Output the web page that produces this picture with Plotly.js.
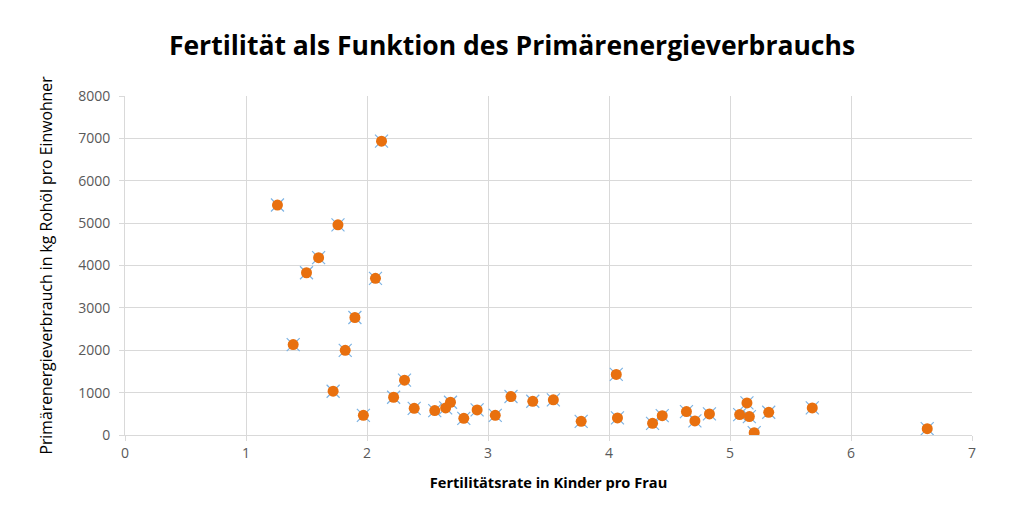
<!DOCTYPE html>
<html>
<head>
<meta charset="utf-8">
<script src="https://cdn.plot.ly/plotly-3.0.1.min.js"></script>
<style>html,body{margin:0;padding:0;background:#fff;}#chart{width:1024px;height:524px;}</style>
</head>
<body>
<div id="chart"></div>
<script>
const fertility = [1.26, 1.39, 1.50, 1.60, 1.72, 1.76, 1.82, 1.90, 1.97, 2.07, 2.12,
  2.22, 2.31, 2.39, 2.56, 2.65, 2.69, 2.80, 2.91, 3.06, 3.19, 3.37, 3.54, 3.77,
  4.06, 4.07, 4.36, 4.44, 4.64, 4.71, 4.83, 5.08, 5.14, 5.16, 5.20, 5.32, 5.68, 6.63];
const energy = [5427, 2133, 3829, 4185, 1033, 4960, 1998, 2773, 464, 3697, 6934,
  891, 1294, 630, 576, 640, 773, 393, 592, 464, 908, 796, 829, 322,
  1429, 403, 275, 457, 552, 332, 498, 481, 758, 434, 55, 536, 640, 149];
const yTicks = [0, 1000, 2000, 3000, 4000, 5000, 6000, 7000, 8000];
const xTicks = [0, 1, 2, 3, 4, 5, 6, 7];

const traces = [
  {x: fertility, y: energy, type: 'scatter', mode: 'markers', hoverinfo: 'skip',
   marker: {symbol: 'x-thin', size: 13, line: {color: '#7DB3E3', width: 1.2}}},
  {x: fertility, y: energy, type: 'scatter', mode: 'markers',
   marker: {symbol: 'circle', size: 11, color: '#E8700F', line: {width: 0}}}
];
const font = "'Open Sans', 'Liberation Sans', sans-serif";
const layout = {
  width: 1024, height: 524,
  margin: {l: 125, r: 52, t: 96, b: 89},
  paper_bgcolor: '#ffffff', plot_bgcolor: '#ffffff',
  showlegend: false,
  font: {family: font, color: '#595959'},
  title: {text: 'Fertilität als Funktion des Primärenergieverbrauchs',
    font: {family: font, size: 26.5, color: '#000000', weight: 'bold'},
    x: 0.5, xanchor: 'center', y: 0.912, yanchor: 'middle'},
  xaxis: {range: [0, 7], tickvals: xTicks, ticktext: xTicks.map(String),
    showgrid: true, gridcolor: '#d9d9d9', gridwidth: 1, zeroline: false,
    showline: true, linecolor: '#d9d9d9', linewidth: 1,
    ticks: 'outside', ticklen: 5, tickcolor: '#d9d9d9',
    tickfont: {size: 14, color: '#595959'},
    title: {text: 'Fertilitätsrate in Kinder pro Frau', standoff: 16,
      font: {size: 14.6, color: '#000000', weight: 'bold'}}},
  yaxis: {range: [0, 8000], tickvals: yTicks, ticktext: yTicks.map(String),
    showgrid: true, gridcolor: '#d9d9d9', gridwidth: 1, zeroline: false,
    showline: true, linecolor: '#d9d9d9', linewidth: 1,
    ticks: 'outside', ticklen: 5, tickcolor: '#d9d9d9', ticklabelstandoff: 6,
    tickfont: {size: 14, color: '#595959'},
    title: {text: 'Primärenergieverbrauch in kg Rohöl pro Einwohner', standoff: 21,
      font: {size: 15.8, color: '#000000'}}}
};
Plotly.newPlot('chart', traces, layout, {displayModeBar: false, staticPlot: true});
</script>
</body>
</html>
